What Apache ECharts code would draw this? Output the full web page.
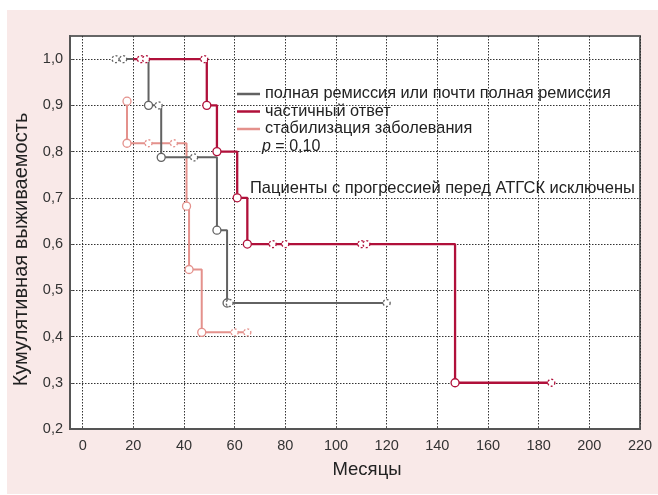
<!DOCTYPE html>
<html><head><meta charset="utf-8">
<script src="https://cdn.jsdelivr.net/npm/echarts@6/dist/echarts.min.js"></script>
<style>html,body{margin:0;padding:0;background:#fff}#c{width:658px;height:495px}</style>
</head><body><div id="c"></div>
<script>
// ---- data ----
const seriesNames = ['полная ремиссия или почти полная ремиссия', 'частичный ответ', 'стабилизация заболевания'];
// step curves: [month, cumulative survival]
const grayCurve = [[13,1.0],[26,0.9],[31,0.7875],[53,0.63],[57,0.4725],[120,0.4725]];
const redCurve  = [[20,1.0],[49,0.9],[53,0.8],[61,0.7],[65,0.6],[147,0.3],[185,0.3]];
const pinkCurve = [[17.5,0.909],[17.5,0.818],[41,0.682],[42,0.545],[47,0.409],[65,0.409]];
// events (complete)
const grayEvents = [[26,0.9],[31,0.7875],[53,0.63],[57,0.4725]];
const redEvents  = [[49,0.9],[53,0.8],[61,0.7],[65,0.6],[147,0.3]];
const pinkEvents = [[17.5,0.909],[17.5,0.818],[41,0.682],[42,0.545],[47,0.409]];
// censored
const grayCensored = [[13,1.0],[16,1.0],[30,0.9],[44,0.7875],[58,0.4725],[120,0.4725]];
const redCensored  = [[23,1.0],[25,1.0],[48,1.0],[75,0.6],[80,0.6],[110,0.6],[112,0.6],[185,0.3]];
const pinkCensored = [[26,0.818],[36,0.818],[60,0.409],[65,0.409]];
const xTicks = [0,20,40,60,80,100,120,140,160,180,200,220];
const yTicks = [0.2,0.3,0.4,0.5,0.6,0.7,0.8,0.9,1.0];
const xTitle = 'Месяцы';
const yTitle = 'Кумулятивная выживаемость';
const pText = '0,10';
const note = 'Пациенты с прогрессией перед АТГСК исключены';

const colors = ['#626262', '#b0103a', '#e4918c'];
const font = "'Liberation Sans', Arial, sans-serif";

function curve(name, data, color, w) {
  return { name, type: 'line', step: 'end', data, showSymbol: false, symbol: 'none',
    lineStyle: { color, width: w }, itemStyle: { color }, silent: true, z: 2 };
}
function marks(data, color, dashed) {
  return { type: 'scatter', data, symbol: 'circle', symbolSize: dashed ? 7 : 8, silent: true, z: 3,
    itemStyle: { color: '#fff', borderColor: color, borderWidth: 1.3, borderType: dashed ? [2,2] : 'solid', opacity: 1 } };
}

const chart = echarts.init(document.getElementById('c'), null, { renderer: 'canvas' });
chart.setOption({
  animation: false,
  textStyle: { fontFamily: font },
  graphic: [
    { type: 'rect', shape: { x: 7, y: 10, width: 651, height: 484 }, style: { fill: '#f9e9e8' }, z: -10, silent: true },
    { type: 'text', left: 262, top: 139, z: 10, style: { text: '{i|p} = ' + pText, font: '16px ' + font, fill: '#222',
      rich: { i: { fontStyle: 'italic', fontSize: 16, fontFamily: font, fill: '#222' } } } },
    { type: 'text', left: 250, top: 180, z: 10, style: { text: note, font: '16.5px ' + font, fill: '#222' } }
  ],
  grid: { left: 70, right: 18, top: 36, bottom: 66, show: true, backgroundColor: '#fff', borderColor: '#666', borderWidth: 2 },
  legend: {
    data: seriesNames, left: 232, top: 81, orient: 'vertical', itemGap: 1.5,
    itemWidth: 23, itemHeight: 2.5, icon: 'rect', itemStyle: { borderWidth: 0 },
    textStyle: { fontSize: 16.3, color: '#222', fontFamily: font }
  },
  xAxis: {
    type: 'value', min: -5, max: 220,
    name: xTitle, nameLocation: 'middle', nameGap: 31,
    nameTextStyle: { fontSize: 18.5, color: '#222', fontFamily: font, padding: [0,0,0,24] },
    axisLine: { show: true, onZero: false, lineStyle: { color: '#555', width: 2 } },
    axisTick: { show: true, inside: true, length: 3, customValues: xTicks, lineStyle: { color: '#555' } },
    axisLabel: { customValues: xTicks, fontSize: 14.5, color: '#333', margin: 9, showMinLabel: true, showMaxLabel: true },
    splitLine: { show: true, lineStyle: { color: '#333', type: [1.5,1.5], width: 1 } }
  },
  yAxis: {
    type: 'value', min: 0.2, max: 1.05,
    name: yTitle, nameLocation: 'middle', nameGap: 39,
    nameTextStyle: { fontSize: 20, color: '#222', fontFamily: font, padding: [0,34,0,0] },
    axisLine: { show: true, onZero: false, lineStyle: { color: '#555', width: 2 } },
    axisTick: { show: true, inside: true, length: 3, customValues: yTicks, lineStyle: { color: '#555' } },
    axisLabel: { customValues: yTicks, fontSize: 14.5, color: '#333', margin: 7,
      formatter: v => v.toFixed(1).replace('.', ',') },
    splitLine: { show: true, lineStyle: { color: '#333', type: [1.5,1.5], width: 1 } }
  },
  series: [
    curve(seriesNames[2], pinkCurve, colors[2], 2),
    marks(pinkEvents, colors[2], false),
    marks(pinkCensored, colors[2], true),
    curve(seriesNames[0], grayCurve, colors[0], 2),
    marks(grayEvents, colors[0], false),
    marks(grayCensored, colors[0], true),
    curve(seriesNames[1], redCurve, colors[1], 2.3),
    marks(redEvents, colors[1], false),
    marks(redCensored, colors[1], true)
  ]
});
</script></body></html>
